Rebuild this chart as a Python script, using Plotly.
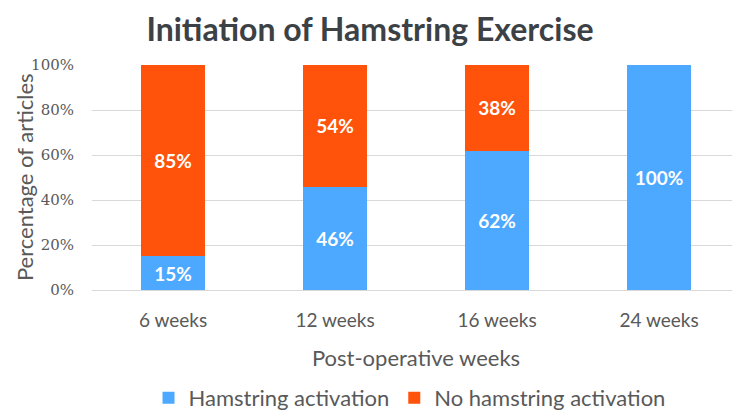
import plotly.graph_objects as go

categories = ["6 weeks", "12 weeks", "16 weeks", "24 weeks"]
hamstring = [15, 46, 62, 100]
no_hamstring = [85, 54, 38, 0]
y_ticks = [0, 20, 40, 60, 80, 100]
y_tick_labels = ["0%", "20%", "40%", "60%", "80%", "100%"]

FONT = "Lato, Open Sans, sans-serif"
SERIF = "DejaVu Serif, serif"
GREY = "#595959"

def labels(vals):
    return [f"{v}%" if v > 0 else "" for v in vals]

fig = go.Figure()
fig.add_trace(go.Bar(
    name="Hamstring activation", x=categories, y=hamstring,
    marker=dict(color="#4DA8FF", line=dict(width=0)),
    text=labels(hamstring), textposition="inside", insidetextanchor="middle",
    textfont=dict(color="white", size=19, family=FONT, weight="bold"),
    width=0.4,
))
fig.add_trace(go.Bar(
    name="No hamstring activation", x=categories, y=no_hamstring,
    marker=dict(color="#FF520A", line=dict(width=0)),
    text=labels(no_hamstring), textposition="inside", insidetextanchor="middle",
    textfont=dict(color="white", size=19, family=FONT, weight="bold"),
    width=0.4,
))

# page body adds an 8px offset, so the figure is sized to fill the rest of the window
fig.update_layout(
    barmode="stack",
    width=732, height=404,
    margin=dict(l=84, r=0, t=57, b=122, autoexpand=False),
    paper_bgcolor="white", plot_bgcolor="white",
    font=dict(family=FONT, color=GREY),
    title=dict(text="<b>Initiation of Hamstring Exercise</b>", x=0.4945, xanchor="center",
               y=0.975, yanchor="top", pad=dict(t=0, b=0),
               font=dict(size=32, color="#3C4146", family=FONT)),
    uniformtext=dict(mode="hide", minsize=10),
    showlegend=True,
    legend=dict(orientation="h", x=0.49, xanchor="center", y=-0.48, yanchor="middle",
                font=dict(size=22, color=GREY), traceorder="normal"),
    xaxis=dict(
        automargin=False,
        tickfont=dict(size=19, color=GREY),
        ticklabelstandoff=13,
        title=dict(text="Post-operative weeks", font=dict(size=22, color=GREY), standoff=20),
        showline=True, linecolor="#D9D9D9", ticks="", showgrid=False,
    ),
    yaxis=dict(
        automargin=False,
        range=[0, 100], tickvals=y_ticks, ticktext=y_tick_labels,
        tickfont=dict(size=15, color=GREY, family=SERIF),
        showgrid=True, gridcolor="#D9D9D9", gridwidth=1, zeroline=False, ticks="",
        ticklabelstandoff=17,
    ),
    annotations=[dict(
        text="Percentage of articles", textangle=-90,
        xref="paper", yref="paper", x=-0.128, y=0.5,
        xanchor="left", yanchor="middle", showarrow=False,
        font=dict(size=22, color=GREY, family=FONT),
    )],
)

fig.write_html("out.html")
